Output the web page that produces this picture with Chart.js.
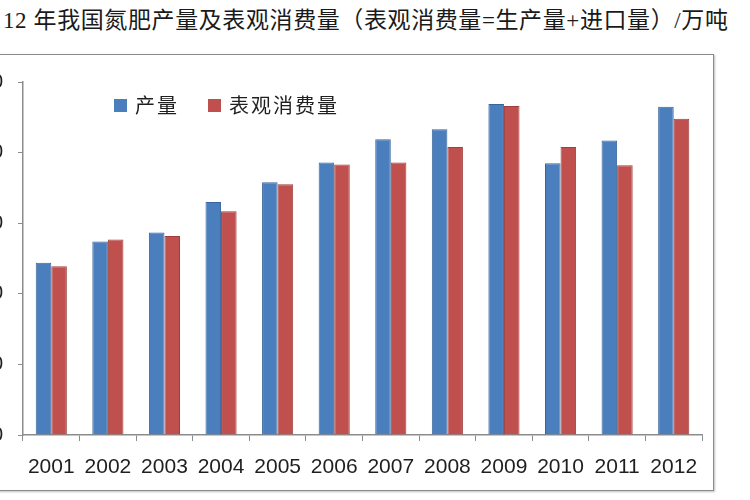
<!DOCTYPE html>
<html>
<head>
<meta charset="utf-8">
<script src="https://cdn.jsdelivr.net/npm/chart.js@4"></script>
<style>
    html, body { margin: 0; padding: 0; background: #ffffff; overflow: hidden; }
    body { width: 750px; height: 500px; position: relative; }
    #chart_title {
        position: absolute; left: 3px; top: 1px; white-space: nowrap; letter-spacing: 0.6px;
        font: 23px "Liberation Serif", "Noto Sans CJK SC", serif; color: #1a1a1a;
    }
    #chart_frame {
        position: absolute; left: -40px; top: 54px; width: 752px; height: 435px;
        border: 1px solid #8a8a8a; box-shadow: 1px 1px 2px rgba(0,0,0,0.25);
    }
</style>
</head>
<body>
<div id="chart_title">12 年我国氮肥产量及表观消费量（表观消费量=生产量+进口量）/万吨</div>
<div id="chart_frame"><canvas id="fert_chart" width="752" height="435"></canvas></div>
<script>
const year_labels = ['2001', '2002', '2003', '2004', '2005', '2006', '2007', '2008', '2009', '2010', '2011', '2012'];
const output_values = [2440, 2740, 2870, 3300, 3580, 3860, 4190, 4330, 4690, 3850, 4170, 4650];
const consumption_values = [2390, 2770, 2820, 3170, 3550, 3830, 3860, 4080, 4660, 4080, 3820, 4480];
const y_ticks = [0, 1000, 2000, 3000, 4000, 5000];

const fert_palette = {
    blue: '#4a7ebd',
    blue_edge: '#3a659c',
    red: '#c0504d',
    red_edge: '#9e3f3c',
    axis: '#8c8c8c',
    text: '#1f1f1f',
};

// legend drawn inside the plot, like the spreadsheet original
const inner_legend = {
    id: 'inner_legend',
    afterDraw(chart) {
        const ctx = chart.ctx;
        const area = chart.chartArea;
        const spots = [91, 185];
        ctx.save();
        ctx.font = '20px "Noto Sans CJK SC", sans-serif';
        ctx.textBaseline = 'middle';
        if ('letterSpacing' in ctx) {
            ctx.letterSpacing = '2px';
        }
        chart.data.datasets.forEach(function (ds, idx) {
            const x = area.left + spots[idx];
            const y = area.top + 23;
            ctx.fillStyle = ds.backgroundColor;
            ctx.fillRect(x, y - 6, 13, 13);
            ctx.fillStyle = fert_palette.text;
            ctx.fillText(ds.label, x + 21, y);
        });
        ctx.restore();
    },
};

new Chart(document.getElementById('fert_chart').getContext('2d'), {
    type: 'bar',
    data: {
        labels: year_labels,
        datasets: [
            {
                label: '产量',
                data: output_values,
                backgroundColor: fert_palette.blue,
                borderColor: fert_palette.blue_edge,
                borderWidth: 1,
                categoryPercentage: 0.55,
                barPercentage: 1.0,
            },
            {
                label: '表观消费量',
                data: consumption_values,
                backgroundColor: fert_palette.red,
                borderColor: fert_palette.red_edge,
                borderWidth: 1,
                categoryPercentage: 0.55,
                barPercentage: 1.0,
            },
        ],
    },
    options: {
        responsive: false,
        animation: false,
        layout: { padding: { top: 22, right: 11, bottom: 0, left: 0 } },
        plugins: {
            legend: { display: false },
            tooltip: { enabled: false },
        },
        scales: {
            x: {
                grid: { drawOnChartArea: false, drawTicks: true, tickLength: 6, color: fert_palette.axis, offset: true },
                border: { color: fert_palette.axis, width: 1.5 },
                ticks: {
                    color: fert_palette.text,
                    padding: 14,
                    maxRotation: 0,
                    font: { family: '"Liberation Sans", sans-serif', size: 21 },
                },
                afterFit: function (scale) { scale.height = 55; },
            },
            y: {
                min: 0,
                max: 5000,
                afterBuildTicks: function (scale) {
                    scale.ticks = y_ticks.map(function (v) { return { value: v }; });
                },
                grid: { drawOnChartArea: false, drawTicks: true, tickLength: 5, color: fert_palette.axis },
                border: { color: fert_palette.axis, width: 1.5 },
                ticks: {
                    color: fert_palette.text,
                    padding: 15,
                    font: { family: '"Liberation Sans", sans-serif', size: 20 },
                },
                afterFit: function (scale) { scale.width = 62; },
            },
        },
    },
    plugins: [inner_legend],
});
</script>
</body>
</html>
